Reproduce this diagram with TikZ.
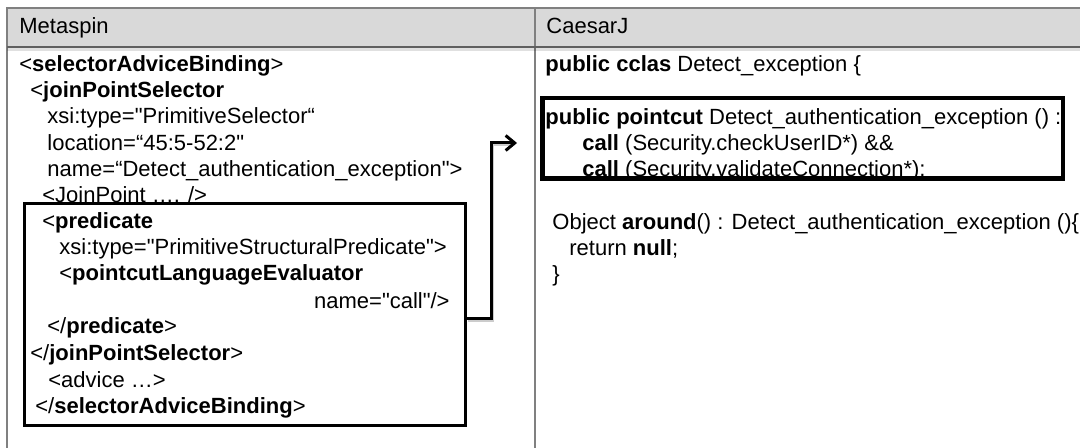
\documentclass[tikz,border=0pt]{standalone}
\usepackage{fontspec}
\setmainfont{Liberation Sans}[Ligatures=TeXOff]
\usetikzlibrary{arrows.meta,fit,shadows}
\definecolor{tablegray}{RGB}{128,128,128}
\definecolor{headrule}{RGB}{96,96,96}
\definecolor{headfill}{RGB}{217,217,217}
\begin{document}
\begin{tikzpicture}[x=0.5pt,y=-0.5pt,
  txt/.style={anchor=base west, inner sep=0pt, font=\fontsize{11}{13}\selectfont},
  txtr/.style={txt, anchor=base east},
  rule/.style={draw=tablegray, line width=1pt},
  hlbox/.style={draw=black, line width=1.5pt, inner sep=0pt, fill=white,
    drop shadow={shadow xshift=0.8pt, shadow yshift=-0.8pt, fill=black, opacity=0.25}},
  link/.style={draw=black, line width=1.5pt},
  linkshadow/.style={draw=black, opacity=0.2, line width=1.5pt},
]
\useasboundingbox (0,0) rectangle (1080,448);

% table frame and header row
\fill[headfill] (7,8) rectangle (1080,47);
\draw[rule] (1080,8) -- (7,8) -- (7,448);
\draw[rule] (535,8) -- (535,448);
\draw[draw=headrule, line width=1pt] (7,47) -- (1080,47);
\draw[draw=black, opacity=0.12, line width=1.5pt] (7,49.5) -- (1080,49.5);

\node[txt] (hmeta) at (19,34) {Metaspin};
\node[txt] (hcaesar) at (546,34) {CaesarJ};

% Metaspin XML, lines above the highlighted block
\node[txt] (m0) at (19,72)  {<\textbf{selectorAdviceBinding}>};
\node[txt] (m1) at (30,98)  {<\textbf{joinPointSelector}};
\node[txt] (m2) at (47,124) {xsi:type="PrimitiveSelector“};
\node[txt] (m3) at (47,151) {location=“45:5-52:2"};
\node[txt] (m4) at (47,177) {name=“Detect\_authentication\_exception">};
\node[txt] (m5) at (42,203) {<JoinPoint …. />};

% highlighted predicate block
\node[hlbox, fit={(24,204) (465,425)}] (pred) {};
\node[txt] (m6)  at (42,229) {<\textbf{predicate}};
\node[txt] (m7)  at (59,255) {xsi:type="PrimitiveStructuralPredicate">};
\node[txt] (m8)  at (59,281) {<\textbf{pointcutLanguageEvaluator}};
\node[txtr] (m9) at (450,308) {name="call"/>};
\node[txt] (m10) at (47,334) {</\textbf{predicate}>};
\node[txt] (m11) at (30,360) {</\textbf{joinPointSelector}>};
\node[txt] (m12) at (48,387) {<advice …>};
\node[txt] (m13) at (35,413) {</\textbf{selectorAdviceBinding}>};

% CaesarJ code
\node[txt] (c0) at (545,72) {\textbf{public cclas} Detect\_exception \{};
\node[hlbox, fit={(543,99) (1062,178)}] (cut) {};
\node[txt] (c2) at (545,125) {\textbf{public pointcut} Detect\_authentication\_exception () :};
\node[txt] (c3) at (582,151) {\textbf{call} (Security.checkUserID*) \&\&};
\node[txt] (c4) at (582,177) {\textbf{call} (Security.validateConnection*);};
\draw[draw=black, line width=1.5pt] (cut.north west) rectangle (cut.south east);
\node[txt] (c6) at (552,230) {Object \textbf{around}() : Detect\_authentication\_exception ()\{};
\node[txt] (c7) at (569,256) {return \textbf{null};};
\node[txt] (c8) at (552,282) {\}};

% connector from the predicate block towards the pointcut
\coordinate (bend) at (491,319);
\coordinate (tip) at (517,143);
\draw[linkshadow, transform canvas={shift={(0.8pt,-0.8pt)}}] (pred.east |- bend) -- (bend) |- ([xshift=-4pt]tip);
\draw[link, -{Straight Barb[length=4.5pt,width=7.5pt]}] (pred.east |- bend) -- (bend) |- (tip);
\end{tikzpicture}
\end{document}
